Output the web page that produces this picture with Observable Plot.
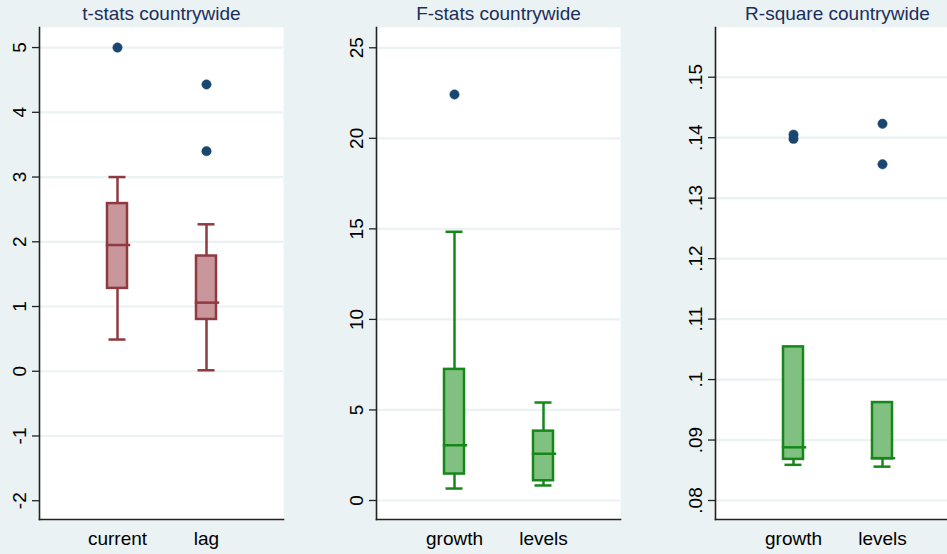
<!DOCTYPE html>
<html>
<head>
<meta charset="utf-8">
<script src="https://cdn.jsdelivr.net/npm/d3@7"></script>
<script src="https://cdn.jsdelivr.net/npm/@observablehq/plot@0.6"></script>
<style>
  html, body { margin: 0; padding: 0; overflow: hidden; background: #eaf2f3; }
  #chart { position: relative; width: 947px; height: 554px; overflow: hidden; background: #eaf2f3; }
  #chart svg { position: absolute; top: 0; background: transparent; overflow: visible; }
</style>
</head>
<body>
<div id="chart"></div>
<script>
// t-statistics: box summaries per regressor
const tCats = ["current", "lag"];
const tLo = [0.49, 0.015];
const tQ1 = [1.28, 0.80];
const tMed = [1.95, 1.06];
const tQ3 = [2.59, 1.78];
const tHi = [3.00, 2.27];
const tOutCat = ["current", "lag", "lag"];
const tOutVal = [5.00, 4.43, 3.40];
const tTicks = [-2, -1, 0, 1, 2, 3, 4, 5];
const tTickLabels = ["-2", "-1", "0", "1", "2", "3", "4", "5"];
const tGrid = [-1, 0, 1, 2, 3, 4, 5];

// F-statistics
const fCats = ["growth", "levels"];
const fLo = [0.66, 0.83];
const fQ1 = [1.46, 1.09];
const fMed = [3.05, 2.58];
const fQ3 = [7.24, 3.83];
const fHi = [14.84, 5.41];
const fOutCat = ["growth"];
const fOutVal = [22.42];
const fTicks = [0, 5, 10, 15, 20, 25];
const fTickLabels = ["0", "5", "10", "15", "20", "25"];

// R-square
const rCats = ["growth", "levels"];
const rLo = [0.0859, 0.0856];
const rQ1 = [0.0868, 0.0869];
const rMed = [0.0888, 0.0870];
const rQ3 = [0.1054, 0.0962];
const rHi = [0.1054, 0.0962];
const rOutCat = ["growth", "growth", "levels", "levels"];
const rOutVal = [0.1405, 0.1398, 0.1423, 0.1356];
const rTicks = [0.08, 0.09, 0.10, 0.11, 0.12, 0.13, 0.14, 0.15];
const rTickLabels = [".08", ".09", ".1", ".11", ".12", ".13", ".14", ".15"];

const FONT = "'Liberation Sans', Arial, sans-serif";
const RED = { fill: "#c9979b", stroke: "#8f3a40" };
const GREEN = { fill: "#80c080", stroke: "#16881a" };
const NAVY = "#1a476f";
const BG = "#eaf2f3";

function panel({title, cats, lo, q1, med, q3, hi, outCat, outVal, yDomain, ticks, tickLabels, grid, colors, left}) {
  const boxes = cats.map((c, i) => ({c, lo: lo[i], q1: q1[i], med: med[i], q3: q3[i], hi: hi[i]}));
  const outliers = outCat.map((c, i) => ({c, v: outVal[i]}));
  const tickRows = ticks.map((t, i) => ({t, label: tickLabels[i]}));
  const sw = 2.5;
  const svg = Plot.plot({
    width: 39 + 244 + 14,
    height: 554,
    marginLeft: 39,
    marginRight: 14,
    marginTop: 27,
    marginBottom: 35,
    style: { fontFamily: FONT, fontSize: "19px", background: "transparent", color: "#000" },
    x: { type: "band", domain: cats, paddingInner: 0.78, paddingOuter: 0.76 },
    y: { domain: yDomain },
    marks: [
      Plot.frame({ fill: "white" }),
      Plot.gridY(grid || ticks, { stroke: BG, strokeOpacity: 1, strokeWidth: 2.2 }),
      // whiskers
      Plot.ruleX(boxes, { x: "c", y1: "q3", y2: "hi", stroke: colors.stroke, strokeWidth: sw }),
      Plot.ruleX(boxes, { x: "c", y1: "lo", y2: "q1", stroke: colors.stroke, strokeWidth: sw }),
      Plot.tickY(boxes, { x: "c", y: "hi", stroke: colors.stroke, strokeWidth: sw, insetLeft: 1.5, insetRight: 1.5 }),
      Plot.tickY(boxes, { x: "c", y: "lo", stroke: colors.stroke, strokeWidth: sw, insetLeft: 1.5, insetRight: 1.5 }),
      // interquartile box and median
      Plot.barY(boxes, { x: "c", y1: "q1", y2: "q3", fill: colors.fill, stroke: colors.stroke, strokeWidth: sw }),
      Plot.tickY(boxes, { x: "c", y: "med", stroke: colors.stroke, strokeWidth: sw, insetLeft: -1.2, insetRight: -3.2 }),
      // outside values
      Plot.dot(outliers, { x: "c", y: "v", r: 4.7, fill: NAVY, stroke: NAVY, strokeWidth: 0.5 }),
      // axes
      Plot.axisY({ ticks, tickSize: 7, fill: "none", stroke: "#222", strokeWidth: 1.3, label: null }),
      Plot.text(tickRows, { y: "t", text: "label", frameAnchor: "left", dx: -20, rotate: -90, textAnchor: "middle", lineAnchor: "middle", fontSize: 19, fill: "#000" }),
      Plot.axisX({ tickSize: 0, tickPadding: 12, fontSize: 19, label: null, fill: "#000" }),
      Plot.frame({ anchor: "left", stroke: "#222", strokeWidth: 1.6 }),
      Plot.frame({ anchor: "bottom", stroke: "#222", strokeWidth: 1.6 }),
      Plot.text([title], { frameAnchor: "top", dy: -13.5, text: d => d, fontSize: 19, fill: "#1c2e5a", lineAnchor: "middle" })
    ]
  });
  svg.style.left = left + "px";
  document.getElementById("chart").appendChild(svg);
}

panel({
  title: "t-stats countrywide", cats: tCats, lo: tLo, q1: tQ1, med: tMed, q3: tQ3, hi: tHi,
  outCat: tOutCat, outVal: tOutVal, yDomain: [-2.29, 5.31], ticks: tTicks, tickLabels: tTickLabels,
  grid: tGrid, colors: RED, left: 0
});
panel({
  title: "F-stats countrywide", cats: fCats, lo: fLo, q1: fQ1, med: fMed, q3: fQ3, hi: fHi,
  outCat: fOutCat, outVal: fOutVal, yDomain: [-1.05, 26.12], ticks: fTicks, tickLabels: fTickLabels,
  colors: GREEN, left: 337
});
panel({
  title: "R-square countrywide", cats: rCats, lo: rLo, q1: rQ1, med: rMed, q3: rQ3, hi: rHi,
  outCat: rOutCat, outVal: rOutVal, yDomain: [0.07686, 0.15822], ticks: rTicks, tickLabels: rTickLabels,
  colors: GREEN, left: 675.7
});
</script>
</body>
</html>
